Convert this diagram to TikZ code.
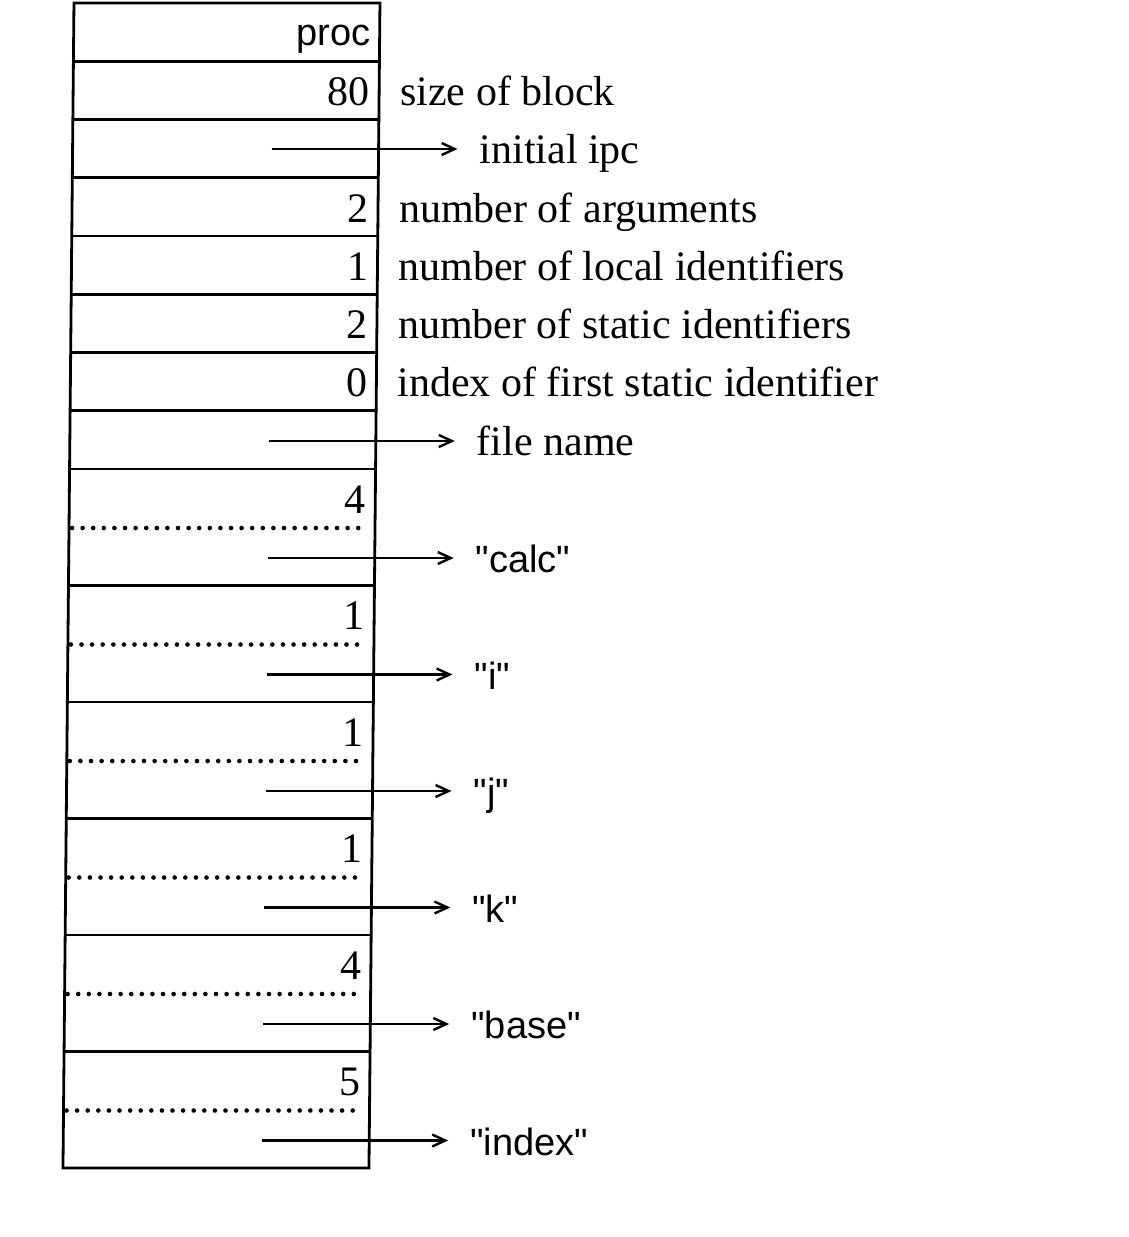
\documentclass[tikz,border=0pt]{standalone}
\usepackage{fontspec}
\setmainfont{Liberation Serif}
\newfontfamily\sansf{Liberation Sans}
\usetikzlibrary{arrows.meta}
\begin{document}
\begin{tikzpicture}[x=1pt,y=-1pt,
  frame/.style={line width=2.8pt},
  dotline/.style={line width=4.6pt,line cap=round,dash pattern=on 0pt off 10.6pt},
  ptr/.style={line width=2.4pt,-{Straight Barb[length=13pt,width=12pt]},shorten >=22pt},
  num/.style={anchor=base east,inner sep=0pt,font=\fontsize{42}{50}\selectfont},
  lbl/.style={anchor=base west,inner sep=0pt,font=\fontsize{42}{50}\selectfont},
  str/.style={anchor=base west,inner sep=0pt,font=\sansf\fontsize{38}{46}\selectfont}]
\useasboundingbox[fill=white] (0,0) rectangle (1128,1237);
\begin{scope}[xslant=0.00945]
% outer frame
\draw[frame] (74,3) -- (380,3) -- (380,1168) -- (74,1168) -- cycle;
% single-row separators
\foreach \k in {1,...,8}{
  \draw[frame] (74,{3+58.25*\k}) -- (380,{3+58.25*\k});
}
% double-row separators and dotted half lines
\foreach \j in {1,...,5}{
  \draw[frame] (74,{469+116.5*\j}) -- (380,{469+116.5*\j});
}
\foreach \j in {0,...,5}{
  \draw[dotline] (77,{469+116.5*\j+59}) -- (371,{469+116.5*\j+59});
}
% header rows
\node[str,anchor=base east] (proc) at (371,45) {proc};
\node[num] (n1) at (371,105.5) {80};
\node[lbl] (l1) at (401,105.5) {size of block};
\coordinate (a2) at (273,149);
\node[lbl] (l2) at (481,163.5) {initial ipc};
\node[num] (n3) at (371,222) {2};
\node[lbl] (l3) at (401,222) {number of arguments};
\node[num] (n4) at (371,280) {1};
\node[lbl] (l4) at (401,280) {number of local identifiers};
\node[num] (n5) at (371,338.5) {2};
\node[lbl] (l5) at (401,338.5) {number of static identifiers};
\node[num] (n6) at (371,396.5) {0};
\node[lbl] (l6) at (401,396.5) {index of first static identifier};
\coordinate (a7) at (273,441);
\node[lbl] (l7) at (481,455) {file name};
\draw[ptr] (a2) -- (a2 -| l2.west);
\draw[ptr] (a7) -- (a7 -| l7.west);
% identifier entries
\foreach \j/\n/\s in {0/4/"calc",1/1/"i",2/1/"j",3/1/"k",4/4/"base",5/5/"index"}{
  \node[num] (m\j) at (371,{469+116.5*\j+44}) {\n};
  \coordinate (b\j) at (273,{469+116.5*\j+89});
  \node[str] (s\j) at (481,{469+116.5*\j+103.5}) {\s};
  \draw[ptr] (b\j) -- (b\j -| s\j.west);
}
\end{scope}
\end{tikzpicture}
\end{document}
